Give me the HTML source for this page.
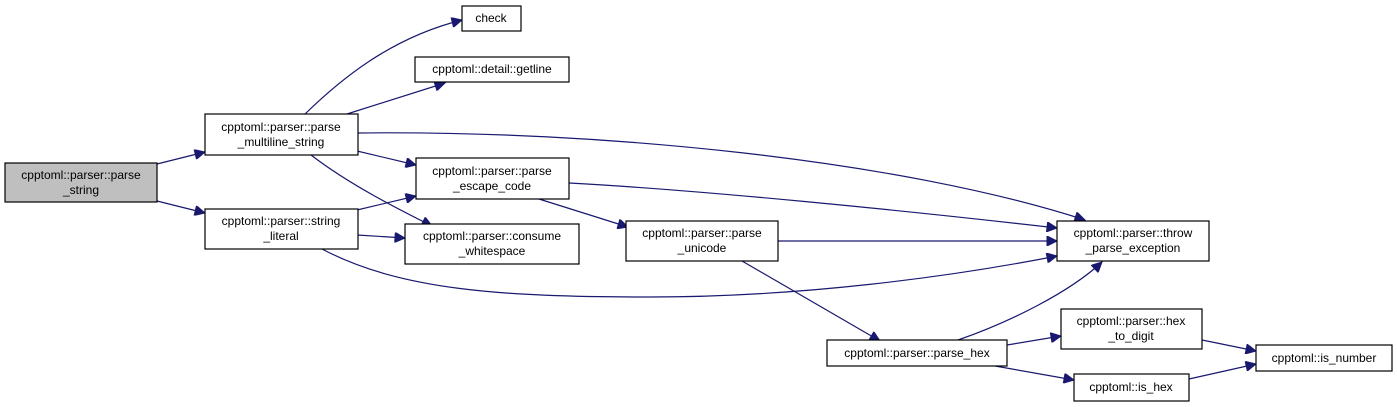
<!DOCTYPE html>
<html><head><meta charset="utf-8"><style>
html,body{margin:0;padding:0;background:#fff;}
svg{display:block;}
text{font-family:"Liberation Sans",sans-serif;font-size:12px;fill:#000;}
.b{fill:#fff;stroke:#000;stroke-width:1.2;}
.e{fill:none;stroke:#191970;stroke-width:1.2;}
</style></head><body>
<svg width="1397" height="407" viewBox="0 0 1397 407">
<defs><marker id="a" viewBox="0 0 10 10" refX="10" refY="5" markerWidth="13" markerHeight="10" markerUnits="userSpaceOnUse" orient="auto"><path d="M0,0 L10,5 L0,10 z" fill="#191970" stroke="#191970"/></marker></defs>
<g marker-end="url(#a)">
<path class="e" d="M157,164 L205,152"/>
<path class="e" d="M157,201 L205,213"/>
<path class="e" d="M305,114 C340,80 390,38 462,20"/>
<path class="e" d="M347,114 L445,83"/>
<path class="e" d="M357,151 L416,165"/>
<path class="e" d="M311,155 C350,185 400,210 432,226"/>
<path class="e" d="M357,133 C600,130 900,160 1085,220"/>
<path class="e" d="M357,210 L416,196"/>
<path class="e" d="M357,235 L405,238"/>
<path class="e" d="M322,249 C400,290 500,297 650,297 C800,297 950,277 1057,256"/>
<path class="e" d="M569,183 C700,190 900,210 1057,228"/>
<path class="e" d="M539,199 L628,227"/>
<path class="e" d="M778,241 L1057,241"/>
<path class="e" d="M742,261 L880,341"/>
<path class="e" d="M958,340 C1010,322 1070,292 1102,262"/>
<path class="e" d="M1007,345 L1061,336"/>
<path class="e" d="M995,366 L1074,380"/>
<path class="e" d="M1202,340 L1256,351"/>
<path class="e" d="M1189,379 L1256,364"/>
</g>
<rect x="5" y="163" width="152" height="39" fill="#bfbfbf" stroke="#000" stroke-width="1.2"/>
<text x="81" y="179" text-anchor="middle">cpptoml::parser::parse</text><text x="81" y="194" text-anchor="middle">_string</text>
<rect class="b" x="205" y="114" width="153" height="41"/>
<text x="281" y="131" text-anchor="middle">cpptoml::parser::parse</text><text x="281" y="146" text-anchor="middle">_multiline_string</text>
<rect class="b" x="205" y="209" width="153" height="40"/>
<text x="281" y="225" text-anchor="middle">cpptoml::parser::string</text><text x="281" y="240" text-anchor="middle">_literal</text>
<rect class="b" x="462" y="6" width="59" height="25"/>
<text x="491" y="22" text-anchor="middle">check</text>
<rect class="b" x="415" y="57" width="154" height="25"/>
<text x="492" y="73" text-anchor="middle">cpptoml::detail::getline</text>
<rect class="b" x="416" y="158" width="153" height="41"/>
<text x="492" y="175" text-anchor="middle">cpptoml::parser::parse</text><text x="492" y="190" text-anchor="middle">_escape_code</text>
<rect class="b" x="405" y="224" width="174" height="40"/>
<text x="492" y="240" text-anchor="middle">cpptoml::parser::consume</text><text x="492" y="255" text-anchor="middle">_whitespace</text>
<rect class="b" x="626" y="221" width="152" height="40"/>
<text x="702" y="237" text-anchor="middle">cpptoml::parser::parse</text><text x="702" y="252" text-anchor="middle">_unicode</text>
<rect class="b" x="1057" y="221" width="152" height="40"/>
<text x="1133" y="237" text-anchor="middle">cpptoml::parser::throw</text><text x="1133" y="252" text-anchor="middle">_parse_exception</text>
<rect class="b" x="827" y="340" width="180" height="26"/>
<text x="917" y="357" text-anchor="middle">cpptoml::parser::parse_hex</text>
<rect class="b" x="1061" y="309" width="141" height="40"/>
<text x="1131" y="325" text-anchor="middle">cpptoml::parser::hex</text><text x="1131" y="340" text-anchor="middle">_to_digit</text>
<rect class="b" x="1074" y="374" width="115" height="27"/>
<text x="1131" y="391" text-anchor="middle">cpptoml::is_hex</text>
<rect class="b" x="1256" y="345" width="136" height="26"/>
<text x="1324" y="362" text-anchor="middle">cpptoml::is_number</text>
</svg>
</body></html>
